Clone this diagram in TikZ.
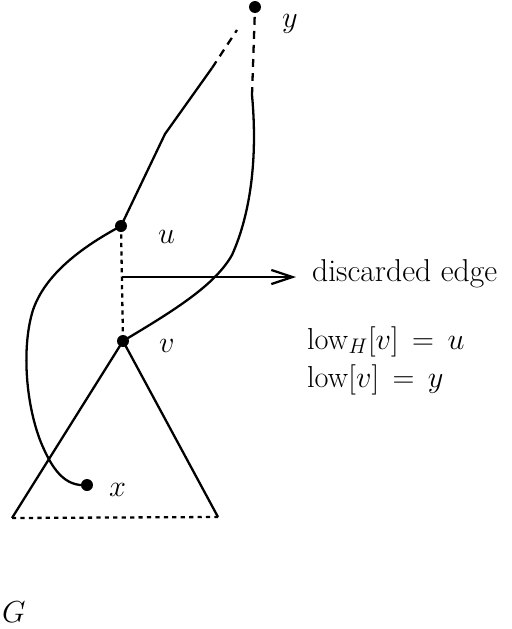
\documentclass[tikz,border=0pt]{standalone}
\usetikzlibrary{arrows.meta}
\tikzset{
  vdot/.style={circle,fill=black,inner sep=0pt,minimum size=0.24cm},
  lbl/.style={anchor=base west,inner sep=0pt,font=\fontsize{18}{22}\selectfont},
  dotline/.style={dash pattern=on 2.4pt off 2.4pt},
  dashline/.style={dash pattern=on 4.5pt off 3.5pt}
}
\begin{document}
\begin{tikzpicture}[x=0.02cm,y=-0.02cm,line width=1.3pt]
\useasboundingbox (0,0) rectangle (511,629);
\node[vdot] (y) at (255,7) {};
\node[vdot] (u) at (121,226) {};
\node[vdot] (v) at (123,341) {};
\node[vdot] (x) at (87,485) {};
\coordinate (tl) at (12,518);
\coordinate (tr) at (218,517);
\coordinate (p1) at (165,134);
\coordinate (p2) at (212,68);
\coordinate (p3) at (237,30);
\coordinate (yb) at (252,95);
\coordinate (e) at (122,277);
\coordinate (ea) at (296,277);
\node[lbl] (ly) at (281,27) {$y$};
\node[lbl] (lu) at (157,243) {$u$};
\node[lbl] (lv) at (158,352) {$v$};
\node[lbl] (lx) at (108,496) {$x$};
\node[lbl] (ld) at (311,281) {discarded edge};
\node[lbl] (l1) at (306,349) {$\mathrm{low}_H[v] \,=\, u$};
\node[lbl] (l2) at (306,387) {$\mathrm{low}[v] \,=\, y$};
\node[lbl] (lg) at (1,622) {$G$};
\draw (tl) -- (v.center) -- (tr);
\draw[dotline] (tl) -- (tr);
\draw[dotline] (u.center) -- (v.center);
\draw[-{Straight Barb[length=12pt,width=8pt]}] (e) -- (ea);
\draw[line join=round] (u.center) -- (p1) -- (p2);
\draw[dashline] (p2) -- (p3);
\draw (v.center) .. controls (175,310) and (215,285) .. (232,255)
  .. controls (250,215) and (258,160) .. (yb);
\draw[dashline] (yb) -- (y.center);
\draw (u.center) .. controls (80,248) and (45,275) .. (33,310)
  .. controls (22,345) and (25,400) .. (40,440)
  .. controls (52,470) and (65,487) .. (x.center);
\end{tikzpicture}
\end{document}
